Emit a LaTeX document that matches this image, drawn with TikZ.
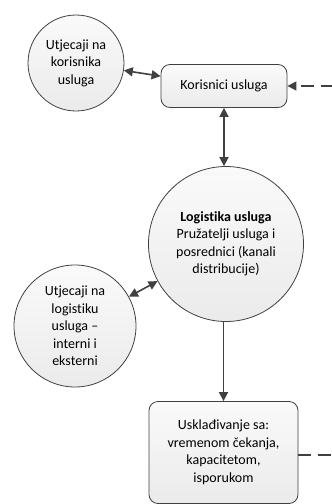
\documentclass[tikz,border=0pt]{standalone}
\usepackage{fontspec}
\setmainfont{Carlito}[Ligatures=NoCommon]
\usetikzlibrary{arrows.meta,shadings}
\definecolor{lineg}{HTML}{404040}
\begin{document}
\begin{tikzpicture}[x=1pt,y=-1pt,
  every node/.style={font=\fontsize{14}{17.5}\selectfont, text=black, align=center},
  bub/.style={circle, draw=lineg, line width=0.8pt, top color=gray!4, bottom color=gray!16, inner sep=0pt},
  rbox/.style={rectangle, rounded corners=9pt, draw=lineg, line width=0.8pt, top color=gray!4, bottom color=gray!16, inner sep=0pt},
  conn/.style={draw=lineg, line width=1.6pt, -{Triangle[length=9pt,width=9pt]}},
  dconn/.style={draw=lineg, line width=1.6pt, {Triangle[length=9pt,width=9pt]}-{Triangle[length=9pt,width=9pt]}},
  dashc/.style={draw=lineg, line width=1.1pt, dash pattern=on 13pt off 7pt}]
\useasboundingbox (0,0) rectangle (332,504);
\node[bub, minimum size=96pt] (uk) at (76,63) {Utjecaji na\\korisnika\\usluga};
\node[rbox, minimum width=126pt, minimum height=43pt] (ku) at (224,86) {Korisnici usluga};
\node[bub, minimum size=155pt] (lu) at (226,244) {\textbf{Logistika usluga}\\Pružatelji usluga i\\posrednici (kanali\\distribucije)};
\node[bub, minimum size=122pt] (ul) at (75,326) {Utjecaji na\\logistiku\\usluga –\\interni i\\eksterni};
\node[rbox, minimum width=149pt, minimum height=102pt] (us) at (223.5,452.5) {Usklađivanje sa:\\vremenom čekanja,\\kapacitetom,\\isporukom};
\coordinate (r1) at (334,86);
\coordinate (r2) at (334,455);
\draw[dconn] (uk) -- (ku);
\draw[dconn] (ku.south) -- (ku.south |- lu.north);
\draw[dconn] (ul) -- (lu);
\draw[conn] (lu.south -| us.north) -- (us.north);
\draw[dashc, -{Triangle[length=9pt,width=9pt]}] (r1) -- (ku.east);
\draw[dashc] (us.east |- r2) -- (r2);
\end{tikzpicture}
\end{document}
